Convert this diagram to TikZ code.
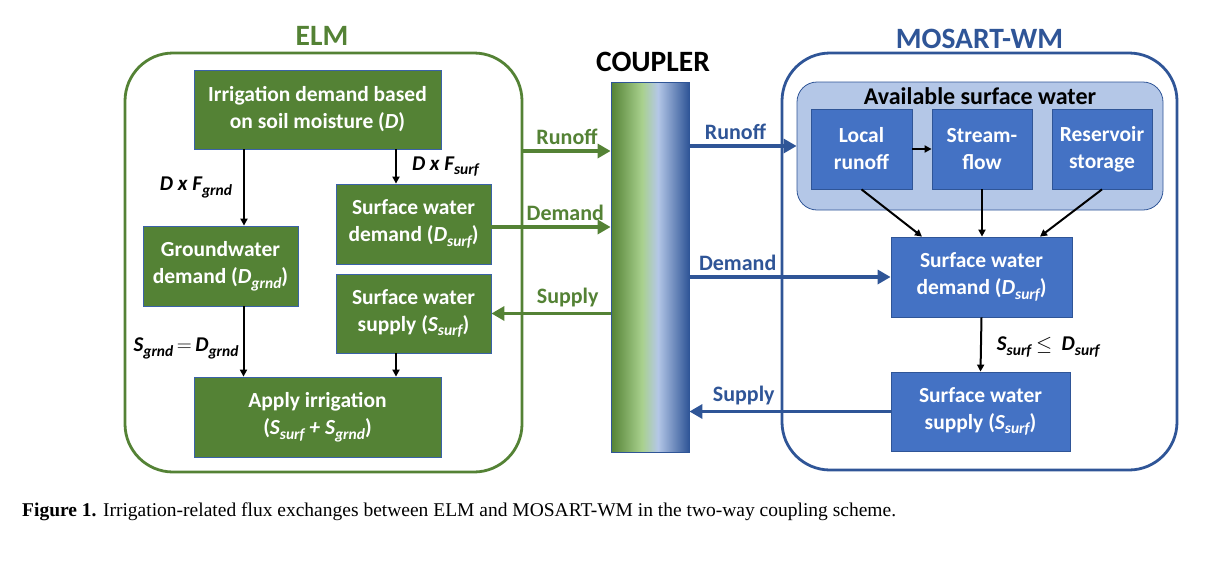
\documentclass[tikz,border=0pt]{standalone}
\usepackage{fontspec}
\setmainfont{Carlito}
\newfontfamily\capfont{Liberation Serif}
\usetikzlibrary{arrows.meta,positioning}

\definecolor{elmgreen}{HTML}{548235}
\definecolor{mosblue}{HTML}{2F5597}
\definecolor{boxblue}{HTML}{4472C4}
\definecolor{paleblue}{HTML}{B4C7E7}
\definecolor{palegreen}{HTML}{A9D18E}
\definecolor{edgeblue}{HTML}{3A62A8}

\pgfdeclarehorizontalshading{couplershade}{100bp}{color(0bp)=(elmgreen); color(25bp)=(elmgreen); color(45bp)=(palegreen); color(55bp)=(paleblue); color(75bp)=(mosblue); color(100bp)=(mosblue)}

\newcommand{\lo}[1]{\raisebox{-0.45ex}{\fontsize{15.5}{15.5}\selectfont #1}}

\tikzset{
  boxtext/.style={font=\fontsize{21.5}{27}\selectfont\bfseries, text=white, align=center, inner sep=0pt},
  elmbox/.style={boxtext, fill=elmgreen, draw=edgeblue, line width=0.8pt},
  mosbox/.style={boxtext, fill=boxblue, draw=mosblue, line width=0.8pt},
  frame/.style={rounded corners=48pt, line width=2.8pt, inner sep=0pt},
  flux/.style={line width=3.5pt, -{Triangle[length=13pt,width=14pt]}},
  inner/.style={line width=2pt, -{Triangle[length=7pt,width=7pt]}},
  fluxlabel/.style={font=\fontsize{22}{22}\selectfont\bfseries, above=4pt, inner sep=1pt},
  eqlabel/.style={font=\fontsize{21}{21}\selectfont\bfseries\itshape, inner sep=0pt},
  title/.style={font=\fontsize{29.5}{29.5}\selectfont\bfseries}
}

\begin{document}
\begin{tikzpicture}[x=1pt,y=-1pt]
  \useasboundingbox (0,0) rectangle (1211,560);

  % Marcos exteriores de los modelos
  \node[frame, draw=elmgreen, minimum width=397pt, minimum height=419pt] (elm) at (323.5,262.5) {};
  \node[frame, draw=mosblue, minimum width=395pt, minimum height=417pt] (mos) at (979.5,261.5) {};
  \node[title, text=elmgreen] (elmtitle) at (322,36) {ELM};
  \node[title, text=mosblue] (mostitle) at (979.5,39) {MOSART-WM};
  \node[title] (couptitle) at (653,62) {COUPLER};

  % Acoplador con degradado verde-azul
  \node[draw=mosblue, line width=0.8pt, shade, shading=couplershade,
        minimum width=78pt, minimum height=370pt] (coupler) at (650,267) {};

  % Cajas de ELM
  \node[elmbox, minimum width=247pt, minimum height=79pt] (irr) at (317.5,109.5)
    {Irrigation demand based\\on soil moisture (\textit{D})};
  \node[elmbox, minimum width=155pt, minimum height=80pt] (sdem) at (413.5,224)
    {Surface water\\demand (\textit{D\lo{surf}})};
  \node[elmbox, minimum width=155pt, minimum height=80pt] (gdem) at (220.5,266)
    {Groundwater\\demand (\textit{D\lo{grnd}})};
  \node[elmbox, minimum width=155pt, minimum height=79pt] (ssup) at (413.5,313.5)
    {Surface water\\supply (\textit{S\lo{surf}})};
  \node[elmbox, minimum width=247pt, minimum height=80pt] (apply) at (317.5,417)
    {Apply irrigation\\(\textit{S\lo{surf} + S\lo{grnd}})};

  % Flechas internas de ELM
  \draw[inner] ([xshift=23.5pt]gdem.north |- irr.south) -- ([xshift=23.5pt]gdem.north)
    node[midway, left=11pt, eqlabel] {D x F\lo{grnd}};
  \draw[inner] ([xshift=-17.5pt]sdem.north |- irr.south) -- ([xshift=-17.5pt]sdem.north)
    node[midway, right=15pt, eqlabel] {D x F\lo{surf}};
  \draw[inner] ([xshift=23pt]gdem.south) -- ([xshift=23pt]gdem.south |- apply.north)
    node[pos=0.6, left=4pt, eqlabel] {S\lo{grnd}\,$=$\,D\lo{grnd}};
  \draw[inner] ([xshift=-17.5pt]ssup.south) -- ([xshift=-17.5pt]ssup.south |- apply.north);

  % Caja de agua superficial disponible
  \node[draw=mosblue, fill=paleblue, line width=0.8pt, rounded corners=20pt,
        minimum width=366pt, minimum height=128pt] (avail) at (980,146) {};
  \node[font=\fontsize{24}{24}\selectfont\bfseries] (availtitle) at (980,96) {Available surface water};
  \node[mosbox, minimum width=101pt, minimum height=80pt] (local) at (861.5,149) {Local\\runoff};
  \node[mosbox, minimum width=100pt, minimum height=80pt] (stream) at (982,149) {Stream-\\flow};
  \node[mosbox, minimum width=100pt, minimum height=80pt] (resv) at (1102,149) {Reservoir\\storage};

  % Cajas de MOSART-WM
  \node[mosbox, minimum width=181pt, minimum height=80pt] (mdem) at (981.5,277)
    {Surface water\\demand (\textit{D\lo{surf}})};
  \node[mosbox, minimum width=179pt, minimum height=79pt] (msup) at (980.5,411.5)
    {Surface water\\supply (\textit{S\lo{surf}})};

  % Flechas internas de MOSART-WM
  \draw[inner] (local.east) -- (stream.west);
  \draw[inner] (local.south) -- ([xshift=-59.5pt]mdem.north);
  \draw[inner] (stream.south) -- (stream.south |- mdem.north);
  \draw[inner] (resv.south) -- ([xshift=58.5pt]mdem.north);
  \draw[inner] (mdem.south) -- (msup.north)
    node[pos=0.55, right=15pt, eqlabel] {S\lo{surf} $\leq$\ \ D\lo{surf}};

  % Flujos entre ELM y el acoplador
  \coordinate (runy) at (0,151);
  \coordinate (demy) at ([yshift=-3pt]sdem.east);
  \draw[flux, elmgreen] (elm.east |- runy) -- (coupler.west |- runy)
    node[midway, fluxlabel, text=elmgreen] {Runoff};
  \draw[flux, elmgreen] (demy) -- (coupler.west |- demy)
    node[pos=0.62, fluxlabel, text=elmgreen] {Demand};
  \draw[flux, elmgreen] (coupler.west |- ssup.east) -- (ssup.east)
    node[pos=0.36, fluxlabel, text=elmgreen] {Supply};

  % Flujos entre el acoplador y MOSART-WM
  \draw[flux, mosblue] (coupler.east |- avail.west) -- (avail.west)
    node[pos=0.43, fluxlabel, text=mosblue] {Runoff};
  \draw[flux, mosblue] (coupler.east |- mdem.west) -- (mdem.west)
    node[pos=0.24, fluxlabel, text=mosblue] {Demand};
  \draw[flux, mosblue] (msup.west) -- (coupler.east |- msup.west)
    node[pos=0.73, fluxlabel, text=mosblue] {Supply};

  % Pie de figura
  \node[anchor=west, inner sep=0pt, font=\capfont\fontsize{19.5}{19.5}\selectfont] (caption) at (22,512)
    {\textbf{Figure 1.} Irrigation-related flux exchanges between ELM and MOSART-WM in the two-way coupling scheme.};
\end{tikzpicture}
\end{document}
